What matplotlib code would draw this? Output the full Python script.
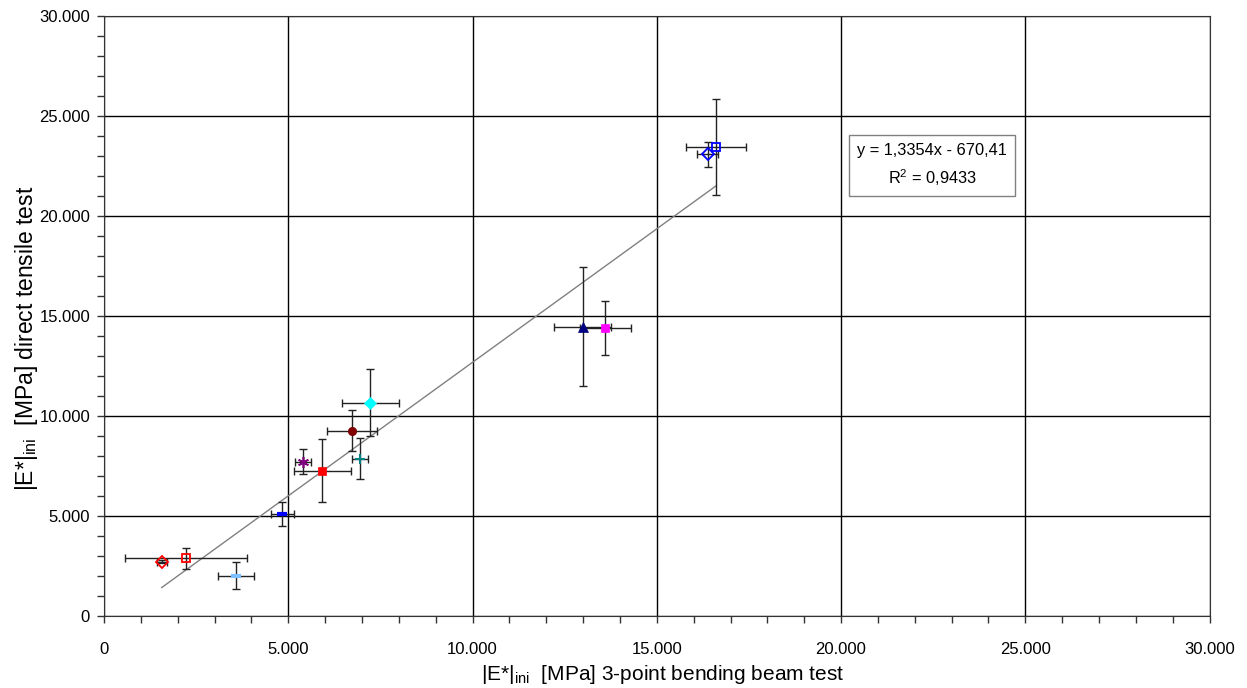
import matplotlib
matplotlib.use("Agg")
import matplotlib.pyplot as plt
from matplotlib.ticker import MultipleLocator, FuncFormatter
import numpy as np

plt.rcParams['font.family'] = ['Liberation Sans', 'DejaVu Sans']
plt.rcParams['mathtext.fontset'] = 'custom'
plt.rcParams['mathtext.rm'] = 'Liberation Sans'

# data (MPa)
x_vals = [1566, 2225, 3580, 4840, 5410, 5925, 6740, 6947, 7227, 12990, 13600, 16380, 16610]
y_vals = [2715, 2885, 2015, 5100, 7715, 7265, 9250, 7865, 10665, 14465, 14400, 23085, 23465]
x_err = [140, 1650, 483, 317, 220, 765, 680, 230, 770, 775, 690, 285, 815]
y_err = [60, 535, 685, 600, 640, 1585, 1025, 1040, 1670, 2980, 1370, 625, 2400]
slope = 1.3354
intercept = -670.41
r2 = 0.9433

# styles
markers = ['D', 's', '_', '_', (6, 2, 0), 's', 'o', '+', 'D', '^', 's', 'D', 's']
colors = ['red', 'red', '#7fbfff', 'blue', '#800080', 'red', '#800000', '#008080',
          'cyan', '#000080', 'magenta', 'blue', 'blue']
filled = [False, False, True, True, True, True, True, True, True, True, True, False, False]
msizes = [6, 6, 7, 7, 8, 6, 6, 7, 6.5, 6.5, 6.3, 6, 6]
mews = [1.3, 1.3, 3, 3, 1.2, 0.5, 0.5, 1.5, 0.5, 0.5, 0.5, 1.3, 1.3]

fig = plt.figure(figsize=(12.47, 6.88), dpi=100)
ax = fig.add_axes([0.0834, 0.1047, 0.8866, 0.872])

ax.set_xlim(0, 30000)
ax.set_ylim(0, 30000)
ax.xaxis.set_major_locator(MultipleLocator(5000))
ax.yaxis.set_major_locator(MultipleLocator(5000))
ax.xaxis.set_minor_locator(MultipleLocator(1000))
ax.yaxis.set_minor_locator(MultipleLocator(1000))
fmt = FuncFormatter(lambda v, p: '0' if v == 0 else f'{int(v):,}'.replace(',', '.'))
ax.xaxis.set_major_formatter(fmt)
ax.yaxis.set_major_formatter(fmt)
ax.grid(True, which='major', color='black', lw=1)
ax.set_axisbelow(True)
ax.tick_params(which='both', direction='out', length=5, width=1, color='#333333', labelsize=12)
ax.tick_params(axis='x', pad=14)
ax.tick_params(axis='y', pad=5)
for s in ax.spines.values():
    s.set_color('#333333')

# trendline
xl = np.array([min(x_vals), max(x_vals)])
ax.plot(xl, slope * xl + intercept, color='gray', lw=1, zorder=2)

for i in range(len(x_vals)):
    ax.errorbar(x_vals[i], y_vals[i], xerr=x_err[i], yerr=y_err[i], fmt='none',
                ecolor='#222222', elinewidth=1, capsize=3, capthick=1, zorder=3)
for i in range(len(x_vals)):
    m = markers[i]
    c = colors[i]
    if filled[i]:
        ax.plot(x_vals[i], y_vals[i], marker=m, color=c, ms=msizes[i],
                mew=mews[i], linestyle='none', zorder=4)
    else:
        ax.plot(x_vals[i], y_vals[i], marker=m, mfc='none', mec=c, ms=msizes[i],
                mew=mews[i], linestyle='none', zorder=4)

ax.text(0.749, 0.751, f'y = {slope:.4f}x - {abs(intercept):.2f}'.replace('.', ',') + '\n' +
        f'R$^2$ = {r2:.4f}'.replace('.', ','),
        transform=ax.transAxes, ha='center', va='center', fontsize=11.8,
        linespacing=1.6, multialignment='center',
        bbox=dict(boxstyle='square,pad=0.5', fc='white', ec='gray', lw=1), zorder=5)

ax.set_xlabel(r'|E*|$_{\mathregular{ini}}$  [MPa] 3-point bending beam test', fontsize=15)
ax.set_ylabel(r'|E*|$_{\mathregular{ini}}$  [MPa] direct tensile test', fontsize=16.5)
ax.xaxis.set_label_coords(0.505, -0.078)
ax.yaxis.set_label_coords(-0.058, 0.463)

fig.savefig('out.png', dpi=100)
